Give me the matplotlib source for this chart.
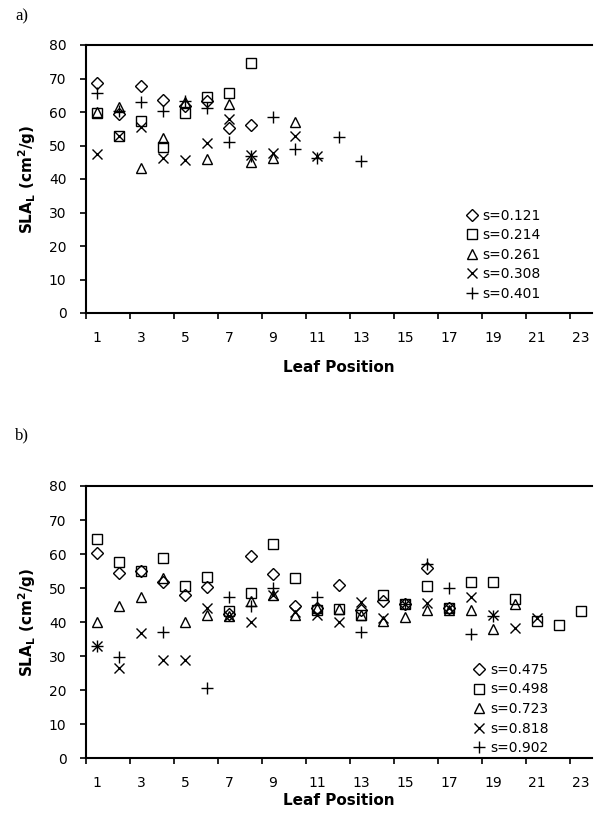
import numpy as np
import matplotlib
matplotlib.use("Agg")
import matplotlib.pyplot as plt

nan = np.nan

# panel a) leaf positions 1..13
a_pos = np.arange(1, 14)
a_labels = ["s=0.121", "s=0.214", "s=0.261", "s=0.308", "s=0.401"]
a_s121 = [68.6, 59.3, 67.9, 63.7, 61.7, 63.2, 55.2, 56.1, nan, nan, nan, nan, nan]
a_s214 = [59.6, 52.8, 57.4, 49.7, 59.6, 64.6, 65.6, 74.5, nan, nan, nan, nan, nan]
a_s261 = [60.0, 61.5, 43.4, 52.3, 63.0, 46.0, 62.3, 45.0, 46.2, 57.0, nan, nan, nan]
a_s308 = [47.5, 52.8, 55.5, 46.2, 45.7, 50.8, 57.8, 47.3, 47.8, 52.8, 47.0, nan, nan]
a_s401 = [65.6, 60.3, 63.0, 60.2, 63.4, 61.3, 50.9, 47.0, 58.4, 48.9, 46.3, 52.4, 45.3]

# panel b) leaf positions 1..23
b_pos = np.arange(1, 24)
b_labels = ["s=0.475", "s=0.498", "s=0.723", "s=0.818", "s=0.902"]
b_s475 = [60.3, 54.3, 55.0, 51.8, 48.0, 50.3, 42.5, 59.5, 54.2, 44.6, 44.0, 51.0,
          43.6, 46.3, 45.2, 55.8, 44.0, nan, nan, nan, nan, nan, nan]
b_s498 = [64.3, 57.6, 55.0, 58.7, 50.5, 53.2, 43.2, 48.6, 62.8, 53.0, 43.5, 43.8,
          42.2, 48.0, 45.2, 50.5, 44.0, 51.8, 51.7, 46.7, 40.2, 39.2, 43.2]
b_s723 = [40.0, 44.8, 47.4, 52.9, 40.0, 42.0, 41.8, 46.2, 47.8, 42.0, 44.0, 43.8,
          42.2, 40.3, 41.4, 43.6, 43.6, 43.4, 37.9, 45.2, nan, nan, nan]
b_s818 = [33.0, 26.4, 36.8, 28.7, 28.7, 44.0, 41.8, 40.0, 47.8, 42.8, 42.0, 40.0,
          45.8, 41.3, 45.4, 45.6, 44.0, 47.5, 42.0, 38.2, 41.2, nan, nan]
b_s902 = [33.0, 29.8, nan, 37.2, nan, 20.6, 47.5, 44.8, 50.0, nan, 47.3, nan,
          37.2, nan, 45.2, 57.2, 50.0, 36.6, 41.8, nan, nan, nan, nan]

markers = ["D", "s", "^", "x", "+"]
sizes = [6.2, 6.5, 7, 7.5, 8]
tick_labels = [str(i) for i in range(1, 24, 2)]


def draw_panel(ax, pos, series, labels, legend_anchor, xpad):
    for y, m, ms, lab in zip(series, markers, sizes, labels):
        ax.plot(pos, y, linestyle="none", marker=m, markersize=ms,
                markerfacecolor="none", markeredgecolor="black",
                markeredgewidth=1.0, label=lab)
    ax.set_xlim(0.5, 23.5)
    ax.set_ylim(0, 80)
    ax.set_yticks(range(0, 81, 10))
    ax.set_xticks(range(1, 24, 2))
    ax.set_xticklabels(tick_labels)
    ax.set_xticks(np.arange(0.5, 23.6, 2), minor=True)
    ax.tick_params(axis="x", which="major", length=0, pad=13, labelsize=10)
    ax.tick_params(axis="x", which="minor", length=4, width=1.2, direction="out")
    ax.tick_params(axis="y", length=4, width=1.2, direction="out", pad=10, labelsize=10)
    for s in ["left", "bottom", "top"]:
        ax.spines[s].set_linewidth(1.5)
    ax.spines["right"].set_visible(False)
    ax.set_ylabel(r"SLA$_\mathbf{L}$ (cm$^\mathbf{2}$/g)", fontsize=11,
                  fontweight="bold", labelpad=8)
    ax.set_xlabel("Leaf Position", fontsize=11, fontweight="bold", labelpad=xpad)
    ax.legend(loc="upper left", bbox_to_anchor=legend_anchor, frameon=False,
              fontsize=10, handlelength=0.8, handletextpad=0.4,
              labelspacing=0.4, borderaxespad=0)


fig = plt.figure(figsize=(6.01, 8.15), dpi=100)
ax1 = fig.add_axes([86 / 601, 1 - 313 / 815, 506 / 601, 268 / 815])
ax2 = fig.add_axes([86 / 601, 1 - 758 / 815, 506 / 601, 272 / 815])

draw_panel(ax1, a_pos, [a_s121, a_s214, a_s261, a_s308, a_s401], a_labels,
           (0.74, 0.41), 11)
draw_panel(ax2, b_pos, [b_s475, b_s498, b_s723, b_s818, b_s902], b_labels,
           (0.755, 0.37), 2)

fig.text(15 / 601, 1 - 16 / 815, "a)", fontsize=12, family="Liberation Serif",
         va="center")
fig.text(15 / 601, 1 - 435 / 815, "b)", fontsize=12, family="Liberation Serif",
         va="center")

fig.savefig("out.png", dpi=100)
